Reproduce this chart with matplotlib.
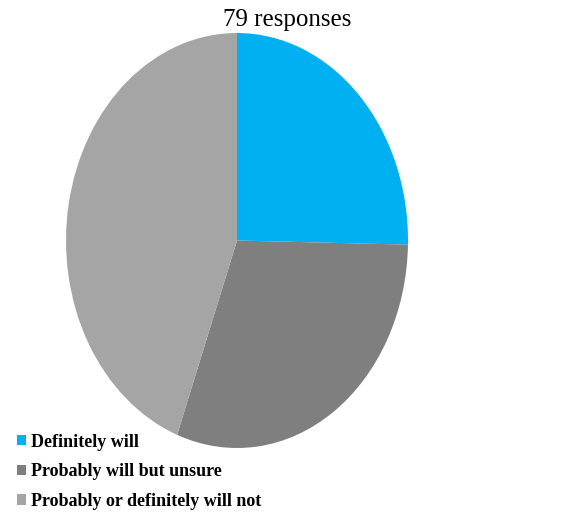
import matplotlib
matplotlib.use("Agg")
import matplotlib.pyplot as plt

categories = ["Definitely will", "Probably will but unsure", "Probably or definitely will not"]
counts = [20, 24, 35]
colors = ["#00B0F0", "#7F7F7F", "#A5A5A5"]
subtitle = "79 responses"

W, H = 587, 512
fig = plt.figure(figsize=(W / 100, H / 100), dpi=100)
fig.patch.set_facecolor("white")

left, right, top, bottom = 66, 408, 33, 448
ax = fig.add_axes([left / W, 1 - bottom / H, (right - left) / W, (bottom - top) / H])
wedges, _ = ax.pie(counts, colors=colors, startangle=90, counterclock=False,
                   radius=1, wedgeprops=dict(linewidth=0))
ax.set_aspect("auto")
ax.set_xlim(-1, 1)
ax.set_ylim(-1, 1)
ax.axis("off")

fig.text(287 / W, 1 - 20 / H, subtitle, ha="center", va="center",
         fontsize=18, family="Liberation Serif")

leg = fig.legend(wedges, categories, loc="upper left",
                 bbox_to_anchor=(4 / W, 1 - 421 / H), frameon=False,
                 handlelength=0.5, handleheight=0.5, handletextpad=0.3,
                 labelspacing=0.7, borderaxespad=0.3,
                 prop=dict(family="Liberation Serif", weight="bold", size=13))

fig.savefig("out.png", dpi=100, facecolor="white")
